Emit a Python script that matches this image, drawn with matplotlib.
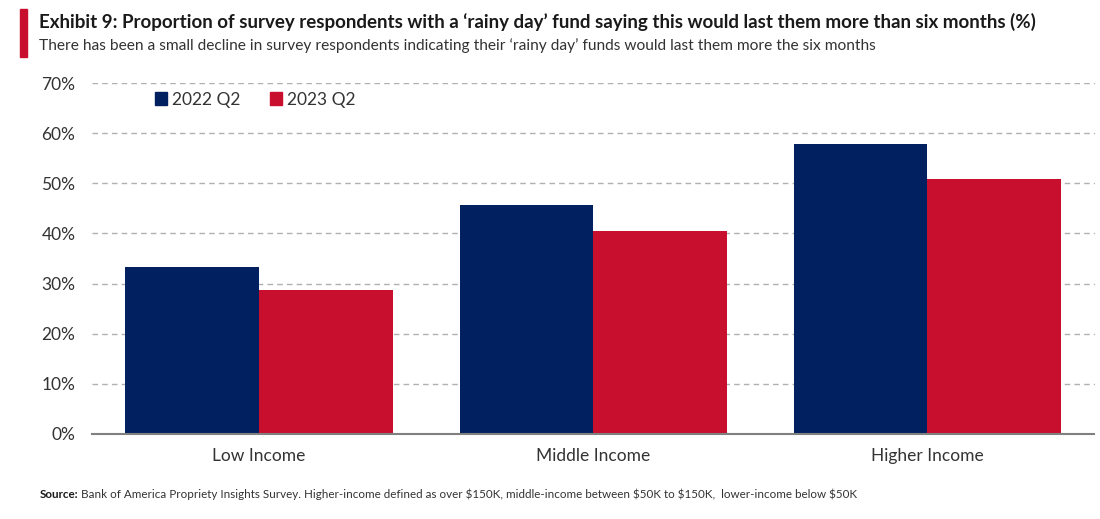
import matplotlib
matplotlib.use("Agg")
import matplotlib.pyplot as plt
import matplotlib.patches as mpatches
import numpy as np

categories = ["Low Income", "Middle Income", "Higher Income"]
series_names = ["2022 Q2", "2023 Q2"]
values_2022 = [33.3, 45.6, 57.8]
values_2023 = [28.7, 40.5, 50.9]
y_ticks = [0, 10, 20, 30, 40, 50, 60, 70]

navy = "#00205F"
red = "#C8102E"
plt.rcParams['font.family'] = ["Lato", "DejaVu Sans"]

fig = plt.figure(figsize=(11, 5.19), dpi=100)
ax = fig.add_axes([0.0836, 0.1638, 0.9114, 0.6762])

x = np.arange(len(categories))
w = 0.4
ax.bar(x - w / 2, values_2022, width=w, color=navy, label=series_names[0], zorder=3)
ax.bar(x + w / 2, values_2023, width=w, color=red, label=series_names[1], zorder=3)

ax.set_xlim(-0.5, 2.5)
ax.set_ylim(0, 70)
ax.set_yticks(y_ticks)
ax.set_yticklabels([f"{t}%" for t in y_ticks])
ax.set_xticks(x)
ax.set_xticklabels(categories)
ax.tick_params(axis='both', length=0, labelsize=12.5, colors="#333333")
ax.tick_params(axis='y', pad=12)
ax.tick_params(axis='x', pad=10)
ax.yaxis.grid(True, linestyle=(0, (4, 3)), color="#B0B0B0", linewidth=1.0, zorder=0)
for s in ["top", "right", "left"]:
    ax.spines[s].set_visible(False)
ax.spines["bottom"].set_color("#808080")
ax.spines["bottom"].set_linewidth(1.5)
ax.spines["bottom"].set_zorder(4)

handles = [mpatches.Patch(color=navy), mpatches.Patch(color=red)]
ax.legend(handles, series_names, loc="upper left", bbox_to_anchor=(0.047, 1.02),
          ncol=2, frameon=False, fontsize=12.5, handlelength=0.7, handleheight=0.7,
          handletextpad=0.3, columnspacing=1.7, labelcolor="#333333")

# title block
fig.patches.append(mpatches.Rectangle((0.018, 0.89), 0.007, 0.092, transform=fig.transFigure,
                                      color=red, figure=fig))
fig.text(0.035, 0.957, "Exhibit 9: Proportion of survey respondents with a \u2018rainy day\u2019 fund saying this would last them more than six months (%)",
         fontsize=13.5, fontweight="bold", color="#1a1a1a", va="center")
fig.text(0.035, 0.912, "There has been a small decline in survey respondents indicating their \u2018rainy day\u2019 funds would last them more the six months",
         fontsize=11.2, color="#333333", va="center")

fig.text(0.036, 0.048, "Source:", fontsize=8.4, fontweight="bold", color="#1a1a1a", va="center")
fig.text(0.074, 0.048, r"Bank of America Propriety Insights Survey. Higher-income defined as over \$150K, middle-income between \$50K to \$150K,  lower-income below \$50K",
         fontsize=8.4, color="#333333", va="center")

fig.savefig("out.png", dpi=100)
